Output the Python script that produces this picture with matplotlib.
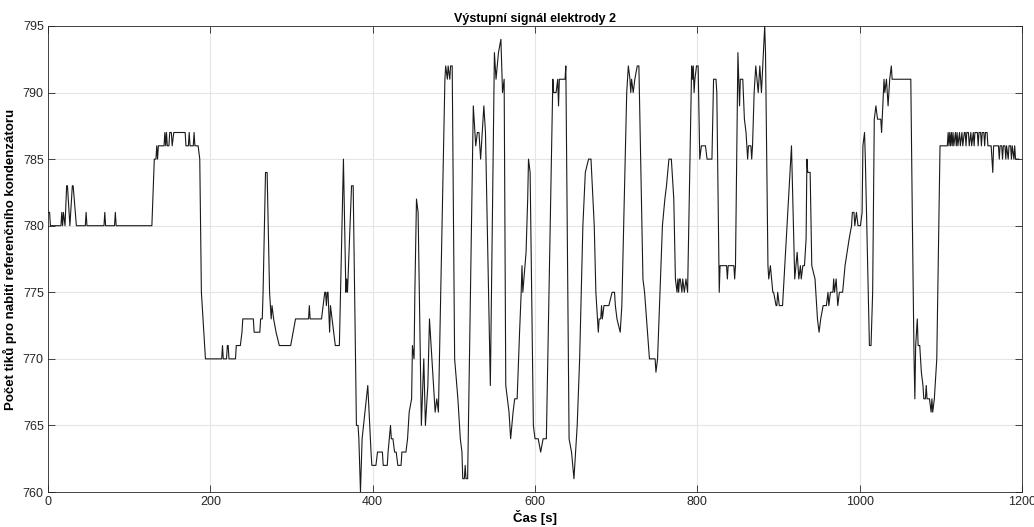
"""Výstupní signál elektrody 2 — recreated step-like counter signal."""

import matplotlib
matplotlib.use("Agg")
import matplotlib.pyplot as plt

# time [s] and tick counts
time_s = [
    0, 2, 3, 16, 17, 18, 19, 21, 23, 24, 27, 30, 31, 35, 46, 47, 48, 69, 70, 71,
    82, 83, 84, 128, 131, 133, 134, 135, 136, 143, 144, 145, 146, 147, 149, 150,
    152, 153, 155, 169, 170, 173, 174, 175, 179, 180, 181, 185, 187, 189, 194,
    214, 215, 216, 220, 221, 222, 223, 231, 232, 237, 239, 240, 253, 254, 261,
    262, 264, 265, 268, 270, 273, 274, 275, 276, 278, 281, 285, 299, 302, 305,
    321, 322, 323, 337, 339, 341, 342, 343, 344, 345, 347, 348, 350, 352, 354,
    359, 364, 367, 368, 369, 374, 376, 380, 382, 383, 385, 386, 387, 394,
    398, 399, 404, 406, 412, 413, 418, 419, 422, 423, 425, 427, 429, 431, 435,
    436, 441, 443, 445, 448, 449, 451, 452, 454, 456, 460, 463, 465, 468, 470,
    473, 475, 477, 479, 481, 489, 490, 492, 493, 495, 496, 498, 501, 505, 508,
    510, 511, 513, 514, 515, 517, 524, 527, 529, 531, 533, 537, 539, 545, 550,
    552, 555, 558, 560, 562, 564, 568, 570, 573, 575, 578, 581, 583, 584, 585,
    589, 591, 592, 594, 598, 600, 604, 607, 610, 614,
    622, 623, 626, 628, 629, 630, 633, 635, 637, 638, 642, 645, 648, 652, 655,
    659, 662, 666, 669, 673, 675, 678, 679, 681, 682, 683, 685, 691, 695, 698,
    699, 701, 705, 707, 713, 715, 717, 718, 719, 721, 723, 726, 728, 733, 735,
    741, 748, 749, 751, 757, 760, 762, 765, 768, 771, 773, 775, 776, 777, 778,
    779, 781, 782, 784, 786, 788, 793, 794, 795, 796, 797, 799, 801, 803, 805,
    810, 812, 818, 820, 823, 824, 827, 828, 836, 837, 838, 845, 846, 847, 850,
    852, 853, 856, 858, 860, 862, 863, 866, 867, 868, 870, 872, 875, 877, 879,
    883, 884, 887, 888, 890, 893, 894, 897, 898, 899, 901, 905, 916, 920, 923,
    925, 927, 928, 930, 932, 934, 935, 936, 939, 941, 945, 948, 950, 952, 955,
    959, 961, 962, 964, 967, 968, 969, 971, 973, 975, 979, 982, 987, 990, 991,
    993, 994, 996, 998, 1001, 1003, 1004, 1006, 1007, 1011, 1012, 1014, 1016,
    1018, 1020, 1022, 1026, 1027, 1030, 1031, 1033, 1035, 1037, 1039, 1040,
    1063, 1065, 1067, 1068, 1069, 1071, 1072, 1074, 1076, 1078, 1079, 1081,
    1082, 1083, 1086, 1088, 1089, 1090, 1092, 1095, 1099, 1108,
    1109, 1110, 1111, 1112, 1113, 1114, 1115, 1116, 1118, 1119, 1120, 1121,
    1123, 1124, 1126, 1127, 1129, 1130, 1131, 1132, 1134, 1135, 1137, 1138,
    1140, 1141, 1142, 1145, 1146, 1147, 1149, 1150, 1151, 1153, 1154, 1155,
    1157, 1158, 1162, 1164, 1165, 1171, 1172, 1173, 1175, 1176, 1177, 1179,
    1180, 1181, 1183, 1184, 1186, 1187, 1188, 1190, 1191, 1192, 1196,
]
tick_counts = [
    781, 781, 780, 780, 781, 780, 781, 780, 783, 783, 780, 783, 783, 780, 780, 781, 780, 780, 781, 780,
    780, 781, 780, 780, 785, 785, 786, 785, 786, 786, 787, 786, 787, 786, 786, 787,
    787, 786, 787, 787, 786, 786, 787, 786, 786, 787, 786, 786, 785, 775, 770,
    770, 771, 770, 770, 771, 771, 770, 770, 771, 771, 772, 773, 773, 772, 772,
    773, 773, 775, 784, 784, 775, 774, 773, 774, 773, 772, 771, 771, 772, 773,
    773, 774, 773, 773, 774, 775, 775, 774, 775, 775, 772, 774, 773, 772, 771,
    771, 785, 775, 776, 775, 783, 783, 765, 765, 764, 760, 762, 764, 768,
    763, 762, 762, 763, 763, 762, 762, 763, 765, 764, 764, 763, 763, 762, 762,
    763, 763, 764, 766, 767, 771, 770, 775, 782, 781, 765, 770, 765, 768, 773,
    770, 768, 766, 767, 766, 791, 792, 791, 792, 791, 792, 792, 770, 767, 764,
    763, 761, 761, 762, 761, 761, 789, 786, 787, 787, 785, 789, 787, 768, 793,
    791, 793, 794, 790, 791, 768, 766, 764, 766, 767, 767, 772, 775, 777, 775,
    778, 782, 785, 784, 765, 764, 764, 763, 764, 764,
    791, 790, 790, 791, 789, 791, 791, 791, 791, 792, 764, 763, 761, 765, 770,
    780, 784, 785, 785, 780, 775, 772, 773, 773, 774, 773, 774, 774, 775, 775,
    774, 773, 772, 774, 790, 792, 791, 790, 791, 790, 791, 792, 792, 776, 775,
    770, 770, 769, 770, 780, 782, 783, 785, 785, 782, 776, 775, 776, 775, 776,
    776, 775, 776, 775, 776, 775, 792, 791, 792, 790, 791, 792, 792, 785, 786,
    786, 785, 785, 791, 791, 790, 775, 777, 777, 776, 777, 777, 776, 777, 793,
    789, 791, 791, 788, 787, 785, 786, 786, 785, 786, 790, 792, 790, 792, 790,
    795, 793, 777, 776, 777, 775, 775, 774, 774, 775, 774, 774, 786, 776, 778,
    776, 777, 776, 777, 777, 779, 785, 784, 784, 777, 776, 773, 772, 773, 774,
    774, 775, 774, 775, 775, 776, 775, 776, 774, 775, 775, 777, 779, 780, 781,
    781, 780, 781, 780, 780, 781, 786, 787, 785, 774, 771, 771, 775,
    788, 789, 788, 788, 787, 791, 790, 791, 789, 791, 792, 791,
    791, 780, 770, 767, 771, 773, 771, 771, 769, 768, 767, 767,
    768, 767, 767, 766, 767, 766, 767, 770, 786, 786,
    787, 786, 787, 786, 787, 786, 787, 786, 787, 786, 787, 786,
    787, 786, 787, 786, 787, 787, 786, 787, 787, 786, 787, 786,
    787, 786, 787, 787, 786, 787, 787, 786, 787, 787, 786, 787,
    787, 786, 786, 784, 786, 786, 785, 786, 786, 785, 786, 786,
    785, 786, 785, 786, 786, 785, 786, 785, 786, 785, 785,
]

x_ticks = [0, 200, 400, 600, 800, 1000, 1200]
y_ticks = [760, 765, 770, 775, 780, 785, 790, 795]

plt.rcParams["font.family"] = ["Liberation Sans", "DejaVu Sans"]

fig = plt.figure(figsize=(10.34, 5.27), dpi=100)
ax = fig.add_axes([0.0464, 0.0664, 0.9420, 0.8843])

ax.plot(time_s, tick_counts, color="#1a1a1a", lw=0.8)

ax.set_xlim(0, 1200)
ax.set_ylim(760, 795)
ax.set_xticks(x_ticks)
ax.set_yticks(y_ticks)
ax.grid(True, color="#e5e5e5", lw=0.8)
ax.set_axisbelow(True)
ax.tick_params(direction="in", length=5, width=0.6, colors="#262626",
               labelsize=9, top=True, right=True, pad=3)
for sp in ax.spines.values():
    sp.set_color("#262626")
    sp.set_linewidth(0.6)

ax.set_title("Výstupní signál elektrody 2", fontsize=9, fontweight="bold", pad=3)
ax.set_xlabel("Čas [s]", fontsize=9.5, fontweight="bold", labelpad=1)
ax.set_ylabel("Počet tiků pro nabití referenčního kondenzátoru",
              fontsize=9.5, fontweight="bold", labelpad=4)

fig.savefig("out.png", dpi=100)
plt.close(fig)
